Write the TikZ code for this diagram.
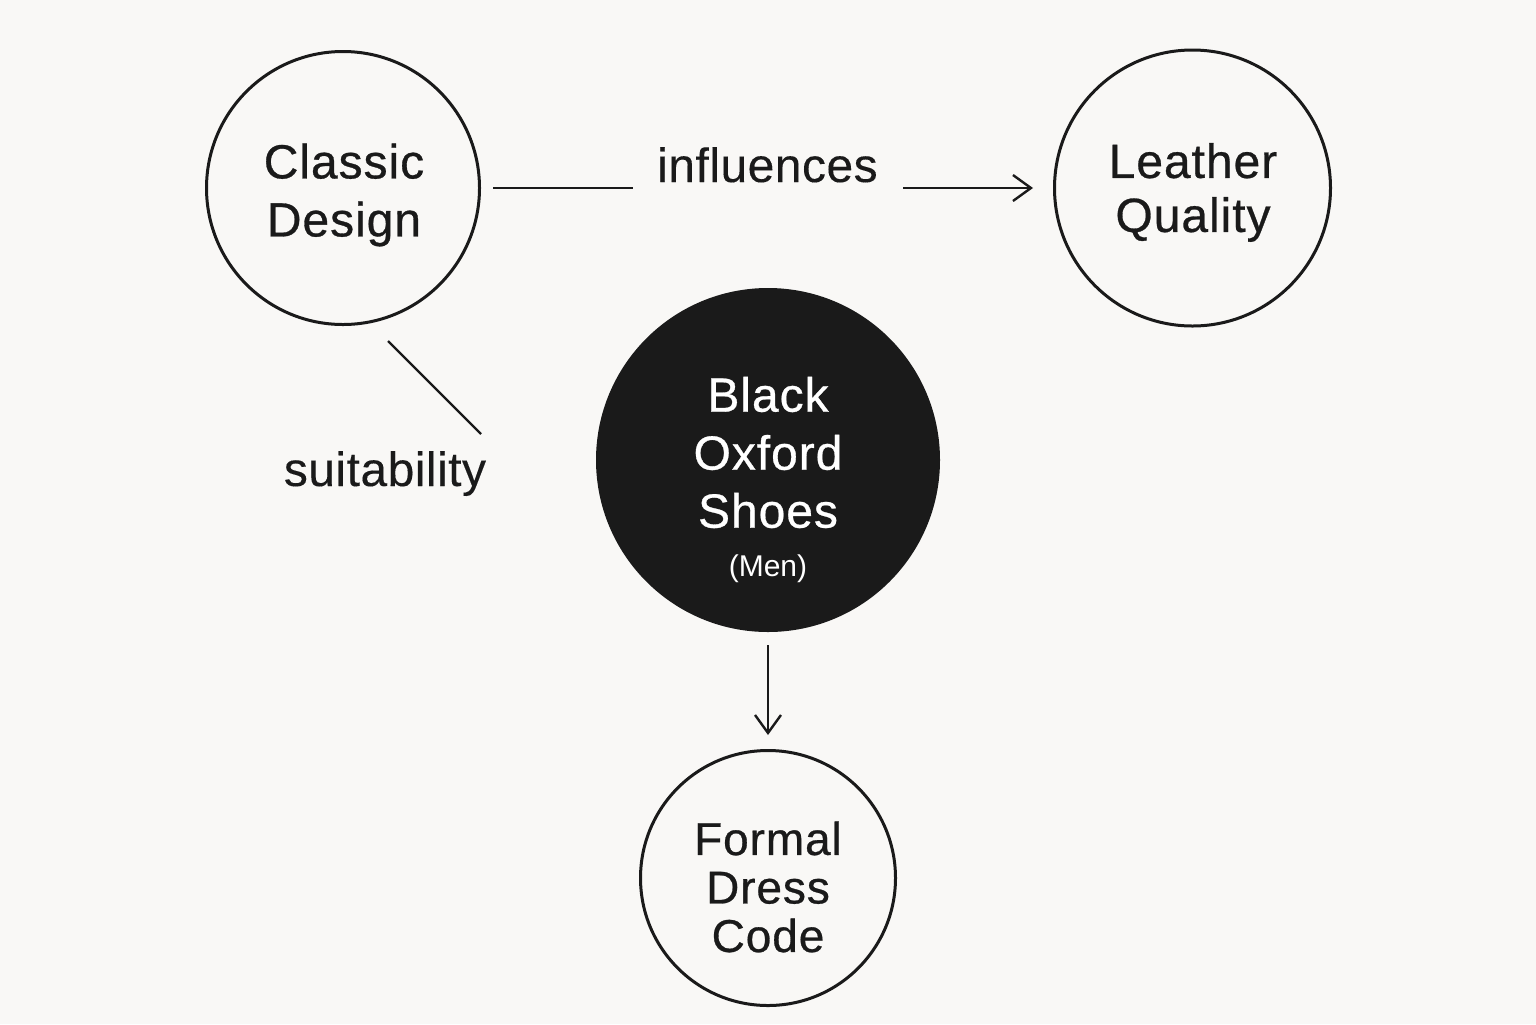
\documentclass[tikz,border=0pt]{standalone}
\usepackage{fontspec}
\setmainfont{Liberation Sans}
\usetikzlibrary{arrows.meta}
\definecolor{paper}{HTML}{F9F8F6}
\definecolor{ink}{HTML}{1A1A1A}
\tikzstyle{ring} = [circle, draw=ink, line width=1.5pt, inner sep=0pt]
\tikzstyle{blob} = [circle, fill=ink, inner sep=0pt]
\tikzstyle{word} = [align=center, text=ink, inner sep=0pt, font=\fontsize{24}{29}\selectfont\addfontfeatures{FakeBold=0.6, LetterSpace=2}]
\tikzstyle{tag} = [text=ink, inner sep=0pt, anchor=base, font=\fontsize{24}{29}\selectfont\addfontfeatures{FakeBold=0.2, LetterSpace=1}]
\tikzstyle{line} = [draw=ink, line width=1.2pt]

\begin{document}
\begin{tikzpicture}[x=0.5pt, y=-0.5pt, >={Straight Barb[length=9pt, width=13pt]}]

\fill [paper] (0,0) rectangle (1536,1024);
\useasboundingbox (0,0) rectangle (1536,1024);

%nodes
\node (1) [ring, minimum size=136.5pt] at (343,188) {};
\node (2) [ring, minimum size=138pt] at (1192.5,188) {};
\node (3) [blob, minimum size=172pt] at (768,460) {};
\node (4) [ring, minimum size=127.5pt] at (768,878) {};

\node (1t) [word] at (344,195) {Classic\\Design};
\node (2t) [word, font=\fontsize{24}{27}\selectfont\addfontfeatures{FakeBold=0.6, LetterSpace=2}] at (1193,192.5) {Leather\\Quality};
\node (3t) [word, text=white] at (768,452.5) {Black\\Oxford\\Shoes};
\node (3m) [tag, text=white, font=\fontsize{15}{17}\selectfont] at (768,576) {(Men)};
\node (4t) [word, font=\fontsize{23}{24.25}\selectfont\addfontfeatures{FakeBold=0.6, LetterSpace=2}] at (768,887) {Formal\\Dress\\Code};

\node (5) [tag] at (767.5,182) {influences};
\node (6) [tag] at (385,486) {suitability};
\coordinate (6a) at (388,341);
\coordinate (6b) at (481,434);

%arrows
\draw [line, shorten <=6pt, shorten >=12pt] (1.east) -- (1.east -| 5.west);
\draw [line, ->, shorten <=12.5pt, shorten >=10pt] (5.east |- 2.west) -- (2.west);
\draw [line] (6a) -- (6b);
\draw [line, ->, shorten <=6.5pt, shorten >=7pt] (3.south) -- (4.north);

\end{tikzpicture}
\end{document}
